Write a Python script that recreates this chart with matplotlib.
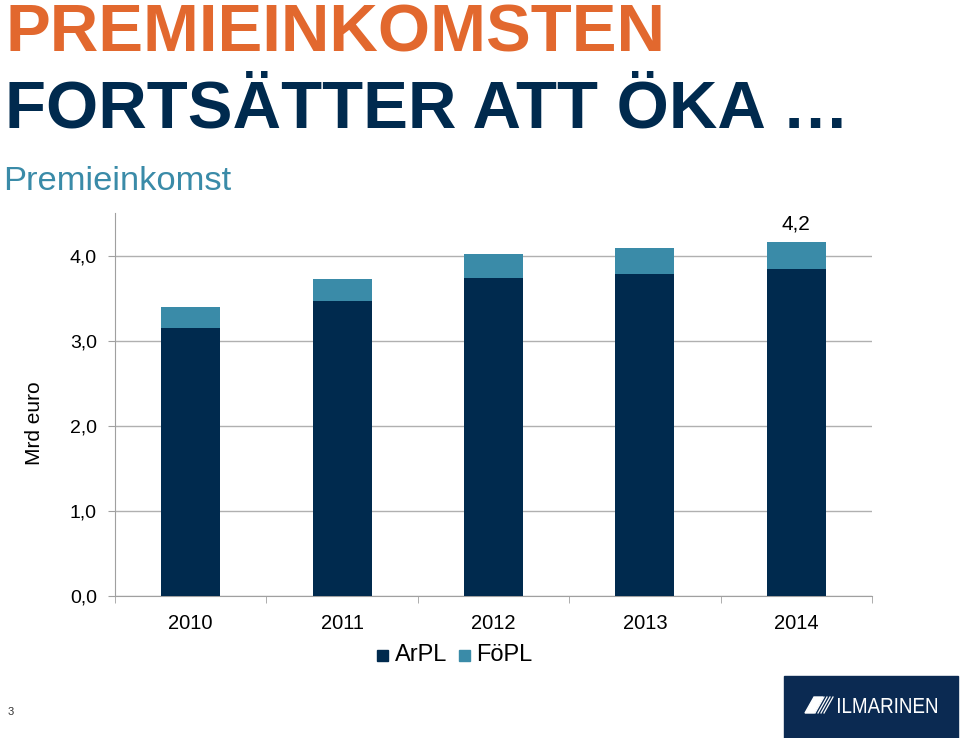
import numpy as np
import matplotlib.pyplot as plt
from matplotlib.patches import Rectangle, Polygon, PathPatch
from matplotlib.textpath import TextPath
from matplotlib.font_manager import FontProperties
from matplotlib.transforms import Affine2D

years = ["2010", "2011", "2012", "2013", "2014"]
arpl = [3.15, 3.47, 3.74, 3.78, 3.84]
fopl = [0.24, 0.26, 0.28, 0.31, 0.32]
yticks = [0, 1, 2, 3, 4]

navy = "#002a4e"
teal = "#3a8ba8"
orange = "#e2682e"

plt.rcParams["font.family"] = ["Liberation Sans", "DejaVu Sans"]

fig = plt.figure(figsize=(9.6, 7.38), dpi=100)
W, H = 960, 738

# plot area in pixels: x 115..872, y 213..596
ax = fig.add_axes([115 / W, 1 - 596 / H, (872 - 115) / W, (596 - 213) / H])
x = np.arange(len(years))
ax.bar(x, arpl, width=0.39, color=navy, zorder=3)
ax.bar(x, fopl, width=0.39, bottom=arpl, color=teal, zorder=3)

ax.set_xlim(-0.5, len(years) - 0.5)
ax.set_ylim(0, 4.5)
ax.set_yticks(yticks)
ax.set_yticklabels([f"{v:.1f}".replace(".", ",") for v in yticks], fontsize=14)
ax.set_xticks(x)
ax.set_xticklabels(years, fontsize=14.5)
ax.set_xticks(np.arange(len(years) + 1) - 0.5, minor=True)
ax.tick_params(axis="x", which="major", length=0, pad=13)
ax.tick_params(axis="x", which="minor", length=5, color="#a0a0a0")
ax.tick_params(axis="y", length=5, color="#a0a0a0", pad=8)
ax.grid(axis="y", color="#b0b0b0", linewidth=1, zorder=0)
for s in ["top", "right"]:
    ax.spines[s].set_visible(False)
for s in ["left", "bottom"]:
    ax.spines[s].set_color("#a0a0a0")
ax.set_ylabel("Mrd euro", fontsize=15)
ax.yaxis.set_label_coords(-0.094, 0.45)

# total label on last bar
total = arpl[-1] + fopl[-1]
ax.text(x[-1], total + 0.1, f"{total:.1f}".replace(".", ","), ha="center",
        va="bottom", fontsize=15)

# legend
fig.patches.append(Rectangle((377 / W, 1 - 661 / H), 11 / W, 11 / H,
                             color=navy, transform=fig.transFigure))
fig.text(395 / W, 1 - 655 / H, "ArPL", fontsize=17, va="center")
fig.patches.append(Rectangle((459 / W, 1 - 661 / H), 11 / W, 11 / H,
                             color=teal, transform=fig.transFigure))
fig.text(476 / W, 1 - 655 / H, "FöPL", fontsize=17, va="center")

# titles
fig.text(5 / W, 1 - 52 / H, "PREMIEINKOMSTEN", color=orange, fontsize=48.3,
         fontweight="bold", va="baseline")
fig.text(5 / W, 1 - 127 / H, "FORTSÄTTER ATT ÖKA …", color=navy, fontsize=48.3,
         fontweight="bold", va="baseline")
fig.text(3 / W, 1 - 190 / H, "Premieinkomst", color=teal, fontsize=24.8,
         va="baseline")

# page number
fig.text(8 / W, 1 - 712 / H, "3", fontsize=8, va="center", color="#333333")

# logo
fig.patches.append(Rectangle((784 / W, 0), (958 - 784) / W, (738 - 676) / H,
                             color="#0b2a52", transform=fig.transFigure))
fig.patches.append(Polygon([(805 / W, 1 - 713 / H), (814 / W, 1 - 713 / H),
                            (823 / W, 1 - 697 / H), (814 / W, 1 - 697 / H)],
                           closed=True, color="white", transform=fig.transFigure))
for k in range(4):
    fig.lines.append(plt.Line2D([(815 + 3 * k) / W, (824 + 3 * k) / W],
                                [1 - 713 / H, 1 - 697 / H], color="white",
                                linewidth=0.9, transform=fig.transFigure))
tp = TextPath((0, 0), "ILMARINEN", size=10,
              prop=FontProperties(family="Liberation Sans"))
bb = tp.get_extents()
sx = (937 - 838) / bb.width
sy = (713 - 698) / bb.height
tr = (Affine2D().translate(-bb.x0, -bb.y0).scale(sx / W, sy / H)
      .translate(838 / W, 1 - 713 / H) + fig.transFigure)
fig.patches.append(PathPatch(tp, facecolor="white", edgecolor="none",
                             transform=tr))

fig.savefig("out.png", dpi=100)
